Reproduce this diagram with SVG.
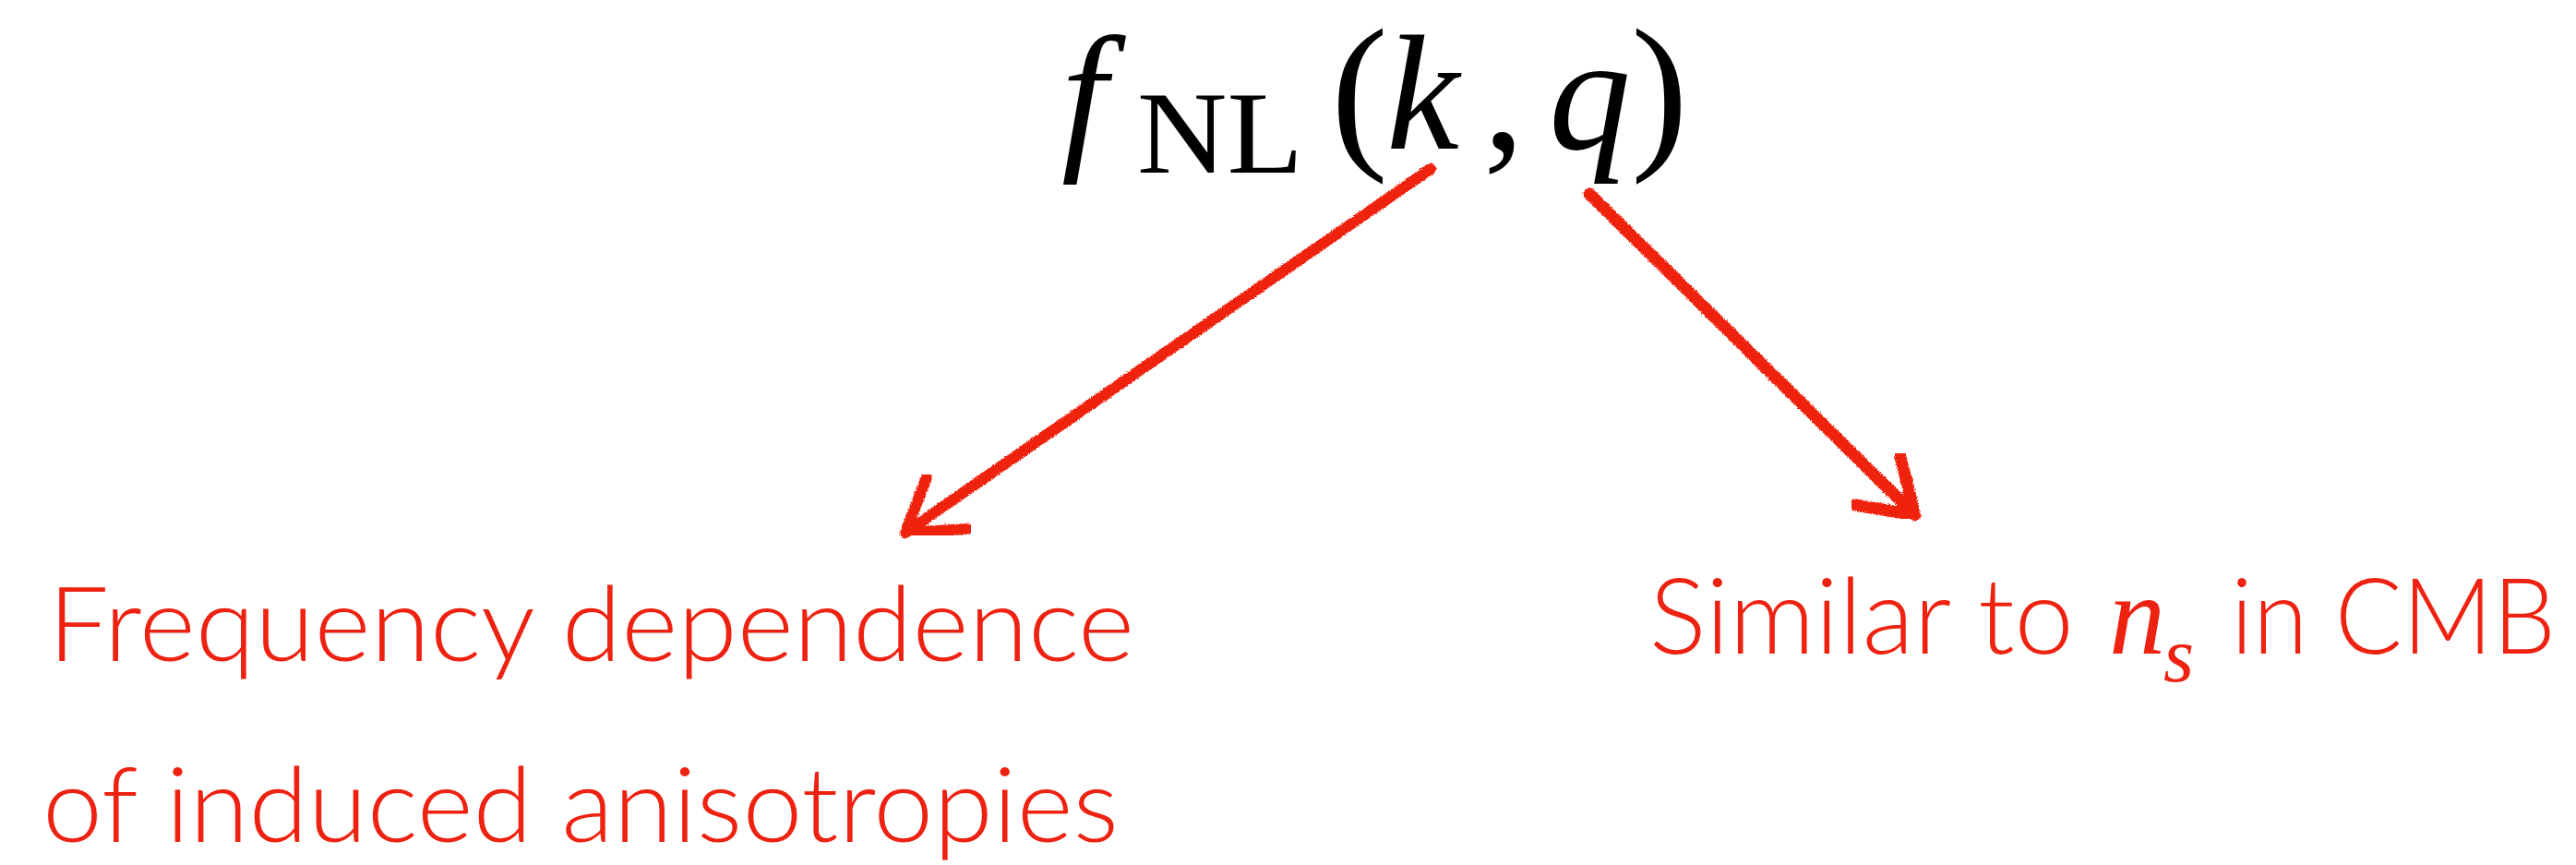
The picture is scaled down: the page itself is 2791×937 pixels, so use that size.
<svg xmlns="http://www.w3.org/2000/svg" width="2791" height="937" viewBox="0 0 2791 937">
<defs>
<style>
.m{font-family:"Liberation Serif","DejaVu Serif",serif;fill:#000}
.i{font-style:italic}
.lbl{font-family:Lato,"Open Sans",sans-serif;font-weight:300;fill:#EE2211}
.arr{fill:none;stroke:#EE2211;stroke-linecap:round;stroke-linejoin:round;filter:url(#rough)}
</style>
<filter id="rough" x="-5%" y="-5%" width="110%" height="110%">
<feTurbulence type="fractalNoise" baseFrequency="0.9" numOctaves="2" seed="3" result="n"/>
<feDisplacementMap in="SourceGraphic" in2="n" scale="4" xChannelSelector="R" yChannelSelector="G"/>
</filter>
</defs>
<rect width="2791" height="937" fill="#fff"/>
<g id="title">
<text class="m i" x="1150" y="162" font-size="178">f</text>
<text class="m" x="1232" y="187" font-size="128" textLength="180" lengthAdjust="spacingAndGlyphs">NL</text>
<text class="m" x="1442" y="160" font-size="186">(</text>
<text class="m i" x="1502" y="161" font-size="178">k</text>
<text class="m" x="1607" y="161" font-size="178">,</text>
<text class="m i" x="1678" y="161" font-size="178">q</text>
<text class="m" x="1767" y="160" font-size="186">)</text>
</g>
<g id="connectors">
<path class="arr" stroke-width="12" d="M1550,183 L981,577"/>
<path class="arr" stroke-width="12" d="M1004,517 L981,577 L1048,573"/>
<path class="arr" stroke-width="13" d="M1722,210 L2075,558"/>
<path class="arr" stroke-width="13" d="M2059,495 L2075,558 L2010,547"/>
</g>
<g id="left-label">
<text class="lbl" x="52" y="716" font-size="112" textLength="1177" lengthAdjust="spacingAndGlyphs">Frequency dependence</text>
<text class="lbl" x="46" y="912" font-size="112" textLength="1166" lengthAdjust="spacingAndGlyphs">of induced anisotropies</text>
</g>
<g id="right-label">
<text class="lbl" x="1787" y="708" font-size="114" textLength="460" lengthAdjust="spacingAndGlyphs">Similar to</text>
<text x="2285" y="708" font-size="122" font-family="Liberation Serif,serif" font-style="italic" fill="#EE2211">n</text>
<text x="2344" y="738" font-size="85" font-family="Liberation Serif,serif" font-style="italic" fill="#EE2211">s</text>
<text class="lbl" x="2417" y="708" font-size="114" textLength="352" lengthAdjust="spacingAndGlyphs">in CMB</text>
</g>
</svg>
